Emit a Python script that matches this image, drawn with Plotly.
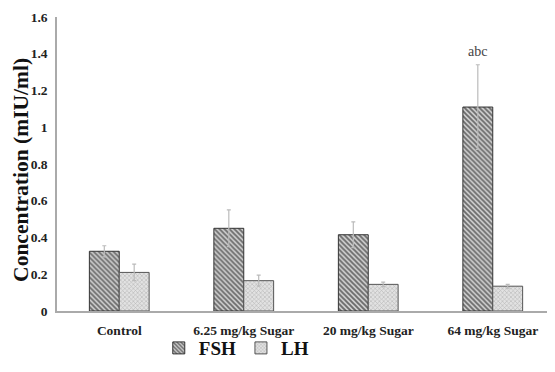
import plotly.graph_objects as go

categories = ["Control", "6.25 mg/kg Sugar", "20 mg/kg Sugar", "64 mg/kg Sugar"]
fsh = [0.325, 0.45, 0.415, 1.11]
fsh_err = [0.03, 0.10, 0.07, 0.23]
lh = [0.21, 0.165, 0.145, 0.135]
lh_err = [0.045, 0.03, 0.012, 0.01]
y_ticks = [0, 0.2, 0.4, 0.6, 0.8, 1, 1.2, 1.4, 1.6]
y_tick_text = ["0", "0.2", "0.4", "0.6", "0.8", "1", "1.2", "1.4", "1.6"]
y_title = "Concentration (mIU/ml)"

font = "Liberation Serif"

fig = go.Figure()
fig.add_trace(go.Bar(
    name="FSH", x=categories, y=fsh,
    error_y=dict(type="data", array=fsh_err, symmetric=True,
                 color="#bbbbbb", thickness=1.2, width=2),
    marker=dict(color="white", line=dict(color="#333333", width=1),
                pattern=dict(shape="\\", fgcolor="#000000", bgcolor="#d4d4d4", size=3.5, solidity=0.55)),
))
fig.add_trace(go.Bar(
    name="LH", x=categories, y=lh,
    error_y=dict(type="data", array=lh_err, symmetric=True,
                 color="#bbbbbb", thickness=1.2, width=2),
    marker=dict(color="white", line=dict(color="#555555", width=1),
                pattern=dict(shape="x", fgcolor="#8a8a8a", bgcolor="#e2e2e2", size=3, solidity=0.35)),
))

fig.add_annotation(x=categories[3], y=fsh[3] + fsh_err[3], xshift=-15, yshift=13,
                   text="abc", showarrow=False,
                   font=dict(family=font, size=14, color="#444444"))

# y-axis title as a rotated annotation for precise placement
fig.add_annotation(xref="paper", yref="paper", x=0, y=0.48, xshift=-36,
                   text=y_title, textangle=-90, showarrow=False,
                   xanchor="center", yanchor="middle",
                   font=dict(family=font, size=21.5, color="#111111", weight="bold"))

# page body has an 8px margin, so the figure is sized to fit the 555x372 window
fig.update_layout(
    width=547, height=364,
    margin=dict(l=49, r=0, t=9, b=61, autoexpand=False),
    paper_bgcolor="white", plot_bgcolor="white",
    barmode="group", bargap=0.52, bargroupgap=0,
    font=dict(family=font, color="#222222"),
    legend=dict(orientation="h", x=0.36, xanchor="center", y=-0.126, yanchor="middle",
                font=dict(family=font, size=19, color="#111111", weight="bold"),
                bgcolor="rgba(0,0,0,0)", itemwidth=30, tracegroupgap=0),
    showlegend=True,
)
fig.update_xaxes(
    showline=True, linecolor="#aaaaaa", linewidth=1.5, ticks="", automargin=False,
    tickfont=dict(family=font, size=13.5, color="#222222", weight="bold"),
    ticklabelstandoff=6,
    showgrid=False,
)
fig.update_yaxes(
    range=[0, 1.6], tickvals=y_ticks, ticktext=y_tick_text, automargin=False,
    showline=True, linecolor="#aaaaaa", linewidth=1.5, ticks="",
    tickfont=dict(family=font, size=13.5, color="#222222", weight="bold"),
    ticklabelstandoff=5,
    showgrid=False, zeroline=False,
)

fig.write_html("out.html")
